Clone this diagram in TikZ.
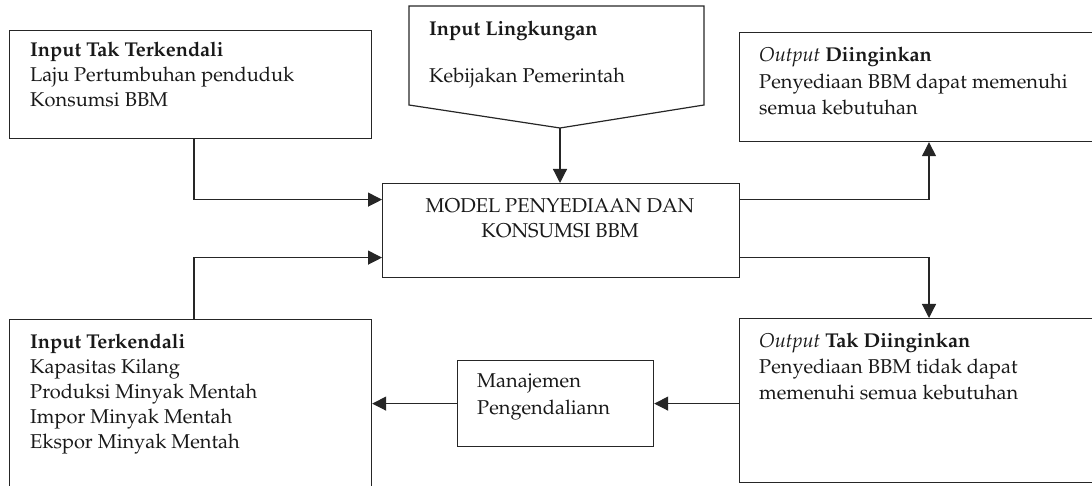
\documentclass[tikz,border=0pt]{standalone}
\usepackage[T1]{fontenc}
\usepackage{mathpazo}
\usetikzlibrary{arrows.meta}
\begin{document}
\begin{tikzpicture}[x=1pt,y=-1pt,
  ln/.style={line width=1.2pt, draw=black!85},
  box/.style={ln, inner sep=0pt, anchor=north west},
  lbl/.style={anchor=base west, inner sep=0pt, align=left, text=black!90},
  arr/.style={ln, -{Triangle[length=14pt,width=14pt]}}]
\useasboundingbox (0,0) rectangle (1092,486);
\clip (0,0) rectangle (1092,486);

% boxes
\node[box, minimum width=362pt, minimum height=108pt] (A) at (9,30) {};
\node[box, minimum width=400pt, minimum height=109pt] (C) at (739,32) {};
\node[box, minimum width=357pt, minimum height=94pt] (M) at (382,183) {};
\node[box, minimum width=362pt, minimum height=220pt] (B) at (9,319) {};
\node[box, minimum width=400pt, minimum height=164pt] (D) at (739,318) {};
\node[box, minimum width=196pt, minimum height=86pt] (N) at (457,360) {};
\draw[ln] (409,6) -- (704,6) -- (704,105) -- (560,128) coordinate (P) -- (409,105) -- cycle;

% texts (anchored at the baseline of their last line)
\node[lbl, font=\fontsize{20}{25}\selectfont] (tA) at (30,107)
  {\textbf{Input Tak Terkendali}\\Laju Pertumbuhan penduduk\\Konsumsi BBM};
\node[lbl, font=\fontsize{20}{25}\selectfont] (tB) at (30,448)
  {\textbf{Input Terkendali}\\Kapasitas Kilang\\Produksi Minyak Mentah\\Impor Minyak Mentah\\Ekspor Minyak Mentah};
\node[lbl, font=\fontsize{20}{26.5}\selectfont] (tC) at (759,115)
  {\textit{Output} \textbf{Diinginkan}\\Penyediaan BBM dapat memenuhi\\semua kebutuhan};
\node[lbl, font=\fontsize{20}{26}\selectfont] (tD) at (759,399)
  {\textit{Output} \textbf{Tak Diinginkan}\\Penyediaan BBM tidak dapat\\memenuhi semua kebutuhan};
\node[lbl, font=\fontsize{20}{47}\selectfont] (tE) at (429,83)
  {\textbf{Input Lingkungan}\\Kebijakan Pemerintah};
\node[anchor=base, inner sep=0pt, align=center, text=black!90, font=\fontsize{20}{25}\selectfont] (tM) at (560,238)
  {MODEL PENYEDIAAN DAN\\KONSUMSI BBM};
\node[lbl, font=\fontsize{20}{27}\selectfont] (tN) at (477,414)
  {Manajemen\\Pengendaliann};

% connectors
\draw[arr] (A.south west) ++(185,0) |- ([yshift=31pt]M.west);
\draw[arr] (B.north west) ++(185,0) |- ([yshift=-27pt]M.west);
\draw[arr] (P) -- (P |- M.north);
\draw[arr] ([yshift=31pt]M.east) -| ([xshift=190pt]C.south west);
\draw[arr] ([yshift=-27pt]M.east) -| ([xshift=190pt]D.north west);
\draw[arr] (D.west |- N.east) -- (N.east);
\draw[arr] (N.west) -- (N.west -| B.east);
\end{tikzpicture}
\end{document}
